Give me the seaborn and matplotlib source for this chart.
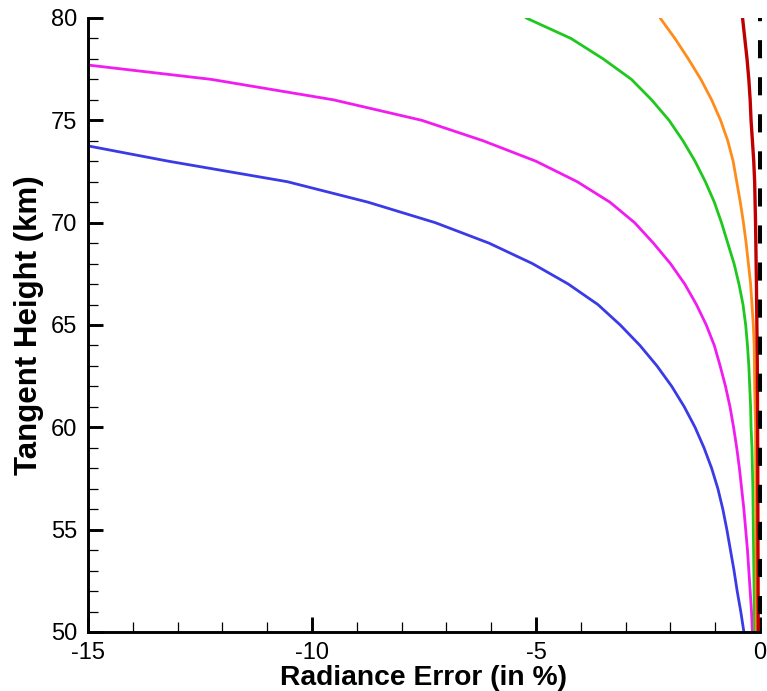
import matplotlib
matplotlib.use("Agg")
import matplotlib.pyplot as plt
from matplotlib.ticker import MultipleLocator
import seaborn as sns
import pandas as pd

# Radiance error profiles (percent) versus tangent height (km)
h_blue = [73.75, 73, 72, 71, 70, 69, 68, 67, 66, 65, 64, 63, 62, 61, 60,
          59, 58, 57, 56, 55, 54, 53, 52, 51, 50]
e_blue = [-15.0, -13.2, -10.55, -8.75, -7.25, -6.05, -5.08, -4.28, -3.62, -3.12,
          -2.68, -2.3, -1.97, -1.69, -1.45, -1.25, -1.08, -0.94, -0.83, -0.74,
          -0.66, -0.58, -0.51, -0.43, -0.36]

h_magenta = [77.7, 77, 76, 75, 74, 73, 72, 71, 70, 69, 68, 67, 66, 65, 64,
             63, 62, 61, 60, 59, 58, 57, 56, 55, 54, 53, 52, 51, 50]
e_magenta = [-15.0, -12.25, -9.52, -7.55, -6.18, -5.0, -4.08, -3.35, -2.8, -2.38,
             -2.0, -1.68, -1.42, -1.2, -1.02, -0.89, -0.77, -0.67, -0.59, -0.52,
             -0.46, -0.41, -0.36, -0.32, -0.28, -0.25, -0.22, -0.19, -0.17]

h_green = [80, 79, 78, 77, 76, 75, 74, 73, 72, 71, 70, 69, 68, 67, 66, 65,
           64, 63, 62, 61, 60, 59, 57, 55, 50]
e_green = [-5.22, -4.22, -3.5, -2.87, -2.42, -2.03, -1.72, -1.45, -1.22, -1.02,
           -0.86, -0.72, -0.58, -0.47, -0.38, -0.32, -0.28, -0.25, -0.23, -0.21,
           -0.20, -0.18, -0.16, -0.15, -0.12]

h_orange = [80, 79, 78, 77, 76, 75, 74, 73, 72, 71, 70, 69, 68, 67, 66, 65,
            64, 62, 60, 55, 50]
e_orange = [-2.23, -1.9, -1.6, -1.32, -1.08, -0.88, -0.72, -0.6, -0.52, -0.44,
            -0.37, -0.31, -0.26, -0.21, -0.18, -0.15, -0.13, -0.12, -0.10, -0.09,
            -0.08]

h_red = [80, 79, 78, 77, 76, 75, 74, 73, 72, 70, 67, 63, 58, 50]
e_red = [-0.39, -0.34, -0.29, -0.25, -0.22, -0.20, -0.17, -0.14, -0.12, -0.10,
         -0.08, -0.06, -0.05, -0.04]

x_ticks = [-15, -10, -5, 0]
y_ticks = [50, 55, 60, 65, 70, 75, 80]

series = [
    (e_blue, h_blue, "#3a3ae6", 2.0),
    (e_magenta, h_magenta, "#f01cf0", 2.0),
    (e_green, h_green, "#1ec81e", 2.0),
    (e_orange, h_orange, "#ff8c1a", 2.0),
    (e_red, h_red, "#c00000", 2.4),
]

sns.set_style("white")
plt.rcParams["font.family"] = ["Liberation Sans", "DejaVu Sans"]
plt.rcParams["text.color"] = "black"
plt.rcParams["axes.labelcolor"] = "black"
plt.rcParams["xtick.color"] = "black"
plt.rcParams["ytick.color"] = "black"

fig = plt.figure(figsize=(7.67, 6.91), dpi=100)
ax = fig.add_axes([0.1147, 0.0854, 0.8762, 0.8886])

for e, h, c, lw in series:
    df = pd.DataFrame({"err": e, "height": h})
    sns.lineplot(data=df, x="err", y="height", sort=False, estimator=None,
                 color=c, linewidth=lw, ax=ax)

# zero-error reference line, drawn downward from the top
ax.plot([0, 0], [80, 50], color="black", linewidth=2.9,
        linestyle=(3.7, (4.5, 4.7)), zorder=5, clip_on=False)

ax.set_xlim(-15, 0)
ax.set_ylim(50, 80)
ax.set_xticks(x_ticks)
ax.set_xticklabels([str(t) for t in x_ticks])
ax.set_yticks(y_ticks)
ax.xaxis.set_minor_locator(MultipleLocator(1))
ax.yaxis.set_minor_locator(MultipleLocator(1))

for side in ("top", "right"):
    ax.spines[side].set_visible(False)
for side in ("left", "bottom"):
    ax.spines[side].set_linewidth(2.1)
    ax.spines[side].set_color("black")

ax.tick_params(which="major", direction="in", length=11, width=2.1,
               labelsize=17, pad=7.5)
ax.tick_params(axis="x", which="major", pad=7)
ax.tick_params(which="minor", direction="in", length=7, width=0.9)
ax.tick_params(axis="x", which="both", bottom=True)
ax.tick_params(axis="y", which="both", left=True)

ax.set_xlabel("Radiance Error (in %)", fontsize=20.3, fontweight="bold", labelpad=1)
ax.set_ylabel("Tangent Height (km)", fontsize=22.5, fontweight="bold", labelpad=5)

fig.savefig("out.png", dpi=100)
